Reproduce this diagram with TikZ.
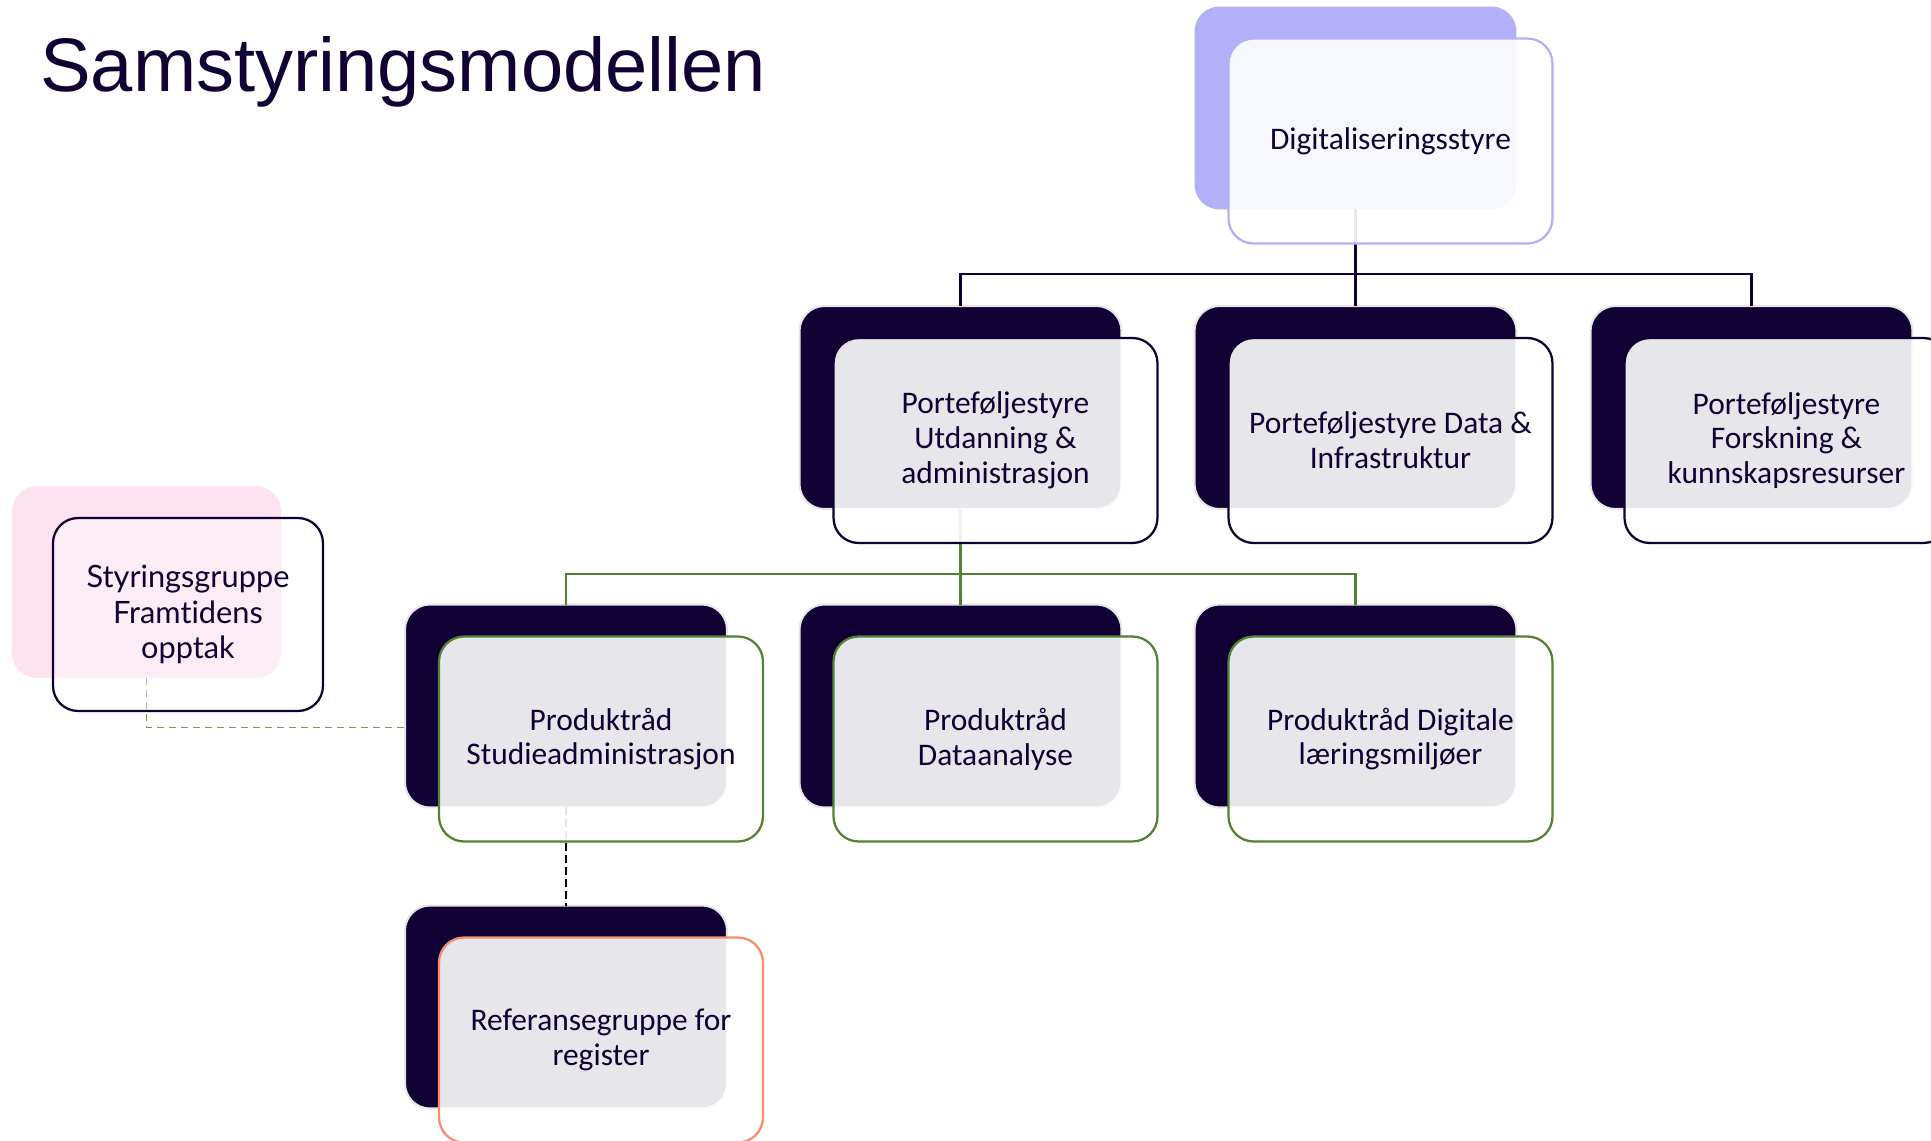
\documentclass[tikz,border=0pt]{standalone}
\usepackage{fontspec}
\usepackage{tikz}
\usetikzlibrary{positioning}
\newfontfamily\boxfont{Carlito}
\newfontfamily\titlefont{Liberation Sans}
\newfontfamily\groupfont[Ligatures=NoCommon]{Lato}
\definecolor{hknavy}{RGB}{16,0,51}
\definecolor{hklilac}{RGB}{179,176,248}
\definecolor{hkpink}{RGB}{253,226,240}
\definecolor{hkgreen}{RGB}{84,130,53}
\definecolor{hksalmon}{RGB}{248,140,108}
\definecolor{hkedge}{RGB}{230,230,232}

\begin{document}
\begin{tikzpicture}[x=0.02cm, y=-0.02cm,
    backbox/.style={rounded corners=0.5cm, minimum width=6.44cm, minimum height=4.06cm, inner sep=0pt, outer sep=0pt, draw=hkedge, line width=0.04cm, fill=hknavy},
    frontbox/.style={rounded corners=0.5cm, minimum width=6.48cm, minimum height=4.1cm, inner sep=0pt, outer sep=0pt, fill=white, fill opacity=0.9, text opacity=1, line width=0.045cm, align=center, text=hknavy, font=\boxfont\fontsize{17.9pt}{19.8pt}\selectfont},
    busline/.style={line width=0.05cm, draw=hknavy},
    greenline/.style={line width=0.05cm, draw=hkgreen},
    refline/.style={line width=0.04cm, draw=black, dash pattern=on 0.16cm off 0.08cm},
    linkline/.style={line width=0.02cm, draw=hkgreen!80, dash pattern=on 0.14cm off 0.1cm}]
    \useasboundingbox[fill=white] (0,0) rectangle (1931,1140);

    % Title
    \node[anchor=base west, inner sep=0pt, text=hknavy, font=\titlefont\fontsize{43.2pt}{50pt}\selectfont] (title) at (40,91) {Samstyringsmodellen};

    % Back panels
    \node[backbox, fill=hklilac, draw=none] (dig) at (1355.5,108) {};
    \node[backbox] (portUA) at (960.5,407.5) {};
    \node[backbox] (portDI) at (1355.5,407.5) {};
    \node[backbox] (portFK) at (1751.5,407.5) {};
    \node[backbox] (prodSA) at (566,706) {};
    \node[backbox] (prodDA) at (960.5,706) {};
    \node[backbox] (prodDL) at (1355.5,706) {};
    \node[backbox] (refReg) at (566,1007) {};
    \node[backbox, fill=hkpink, draw=none, minimum width=5.38cm, minimum height=3.84cm] (styr) at (146.5,582) {};

    % Connectors
    \coordinate (busTop) at (1355.5,274);
    \draw[busline] (dig.south) -- (busTop);
    \draw[busline] (portUA.north) |- (busTop) -| (portFK.north);
    \draw[busline] (busTop) -- (portDI.north);
    \coordinate (busMid) at (960.5,574);
    \draw[greenline] (portUA.south) -- (busMid);
    \draw[greenline] (prodSA.north) |- (busMid) -| (prodDL.north);
    \draw[greenline] (busMid) -- (prodDA.north);
    \draw[refline] (prodSA.south) -- (refReg.north);
    \draw[linkline] (styr.south) |- ([yshift=-0.42cm]prodSA.west);

    % Front panels
    \node[frontbox, draw=hklilac, below right=0.64cm and 0.68cm of dig.north west] (digF) {Digitaliseringsstyre};
    \node[frontbox, draw=hknavy, below right=0.64cm and 0.68cm of portUA.north west] (portUAF) {Porteføljestyre\\Utdanning \&\\administrasjon};
    \node[frontbox, draw=hknavy, below right=0.64cm and 0.68cm of portDI.north west] (portDIF) {Porteføljestyre Data \&\\Infrastruktur};
    \node[frontbox, draw=hknavy, below right=0.64cm and 0.68cm of portFK.north west] (portFKF) {Porteføljestyre\\Forskning \&\\kunnskapsresurser};
    \node[frontbox, draw=hkgreen, below right=0.64cm and 0.68cm of prodSA.north west] (prodSAF) {Produktråd\\Studieadministrasjon};
    \node[frontbox, draw=hkgreen, below right=0.64cm and 0.68cm of prodDA.north west] (prodDAF) {Produktråd\\Dataanalyse};
    \node[frontbox, draw=hkgreen, below right=0.64cm and 0.68cm of prodDL.north west] (prodDLF) {Produktråd Digitale\\læringsmiljøer};
    \node[frontbox, draw=hksalmon, below right=0.64cm and 0.68cm of refReg.north west] (refRegF) {Referansegruppe for\\register};
    \node[frontbox, draw=hknavy, fill opacity=0.4, minimum width=5.4cm, minimum height=3.86cm, font=\groupfont\fontsize{17.5pt}{20.2pt}\selectfont, below right=0.64cm and 0.82cm of styr.north west] (styrF) {Styringsgruppe\\Framtidens\\opptak};
\end{tikzpicture}
\end{document}
